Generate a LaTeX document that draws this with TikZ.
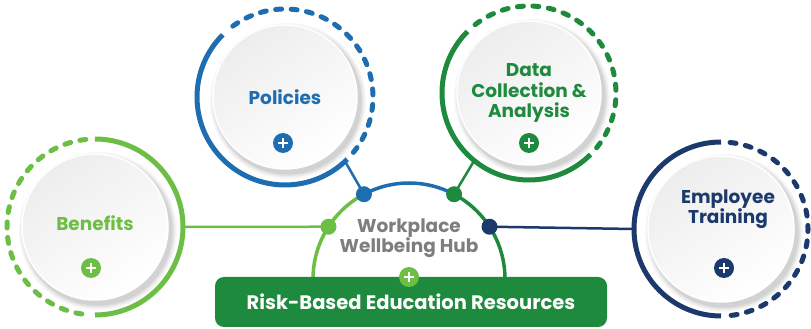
\documentclass[tikz,border=0pt]{standalone}
\usepackage{fontspec}
\setmainfont{Poppins}[BoldFont={Poppins Bold}]
\usetikzlibrary{calc}
\definecolor{lgreen}{HTML}{6DBE45}
\definecolor{pblue}{HTML}{1F6DB1}
\definecolor{dgreen}{HTML}{1E8A3E}
\definecolor{navy}{HTML}{1B3A6B}
\definecolor{hubgray}{HTML}{7E7E7E}
\tikzset{
  ringnode/.style={circle, minimum size=176pt, inner sep=0pt, draw=none},
  ringsolid/.style={line width=5pt},
  ringdash/.style={line width=5pt, line cap=round, dash pattern=on 6pt off 9.5pt},
  label/.style={font=\fontsize{18.5}{20.5}\selectfont\bfseries, align=center},
  plusbtn/.style={circle, minimum size=20pt, inner sep=0pt, fill=#1},
  hubdot/.style={circle, minimum size=16pt, inner sep=0pt, fill=#1},
  conn/.style={line width=2.5pt},
}
\newcommand{\discshade}[2]{%
  \foreach \k/\o in {12/0.03,9/0.04,6/0.05,3/0.06}{
    \fill[black, opacity=\o] ($(#1)+(3,-4)$) circle (#2+\k*0.5);
  }
  \shade[top color=gray!14, bottom color=white, shading angle=35] (#1) circle (#2);
  \draw[white, line width=1.5pt] (#1) circle (#2);
}
\newcommand{\plusmark}[1]{%
  \draw[white, line width=1.4pt] ($(#1)+(-5,0)$) -- ($(#1)+(5,0)$);
  \draw[white, line width=1.4pt] ($(#1)+(0,-5)$) -- ($(#1)+(0,5)$);
}
\begin{document}
\begin{tikzpicture}[x=1pt,y=1pt]
\useasboundingbox (0,0) rectangle (811,329);
\fill[white] (0,0) rectangle (811,329);

% ring anchor nodes
\node[ringnode] (ben) at (95,102) {};
\node[ringnode] (pol) at (285,232) {};
\node[ringnode, minimum size=174pt] (dat) at (529,236) {};
\node[ringnode, minimum size=174pt] (emp) at (721,100) {};
\coordinate (hub) at (409,50);

% hub dots positions
\coordinate (dB) at ($(hub)+(147:96)$);
\coordinate (dP) at ($(hub)+(118:96)$);
\coordinate (dD) at ($(hub)+(62:96)$);
\coordinate (dE) at ($(hub)+(33:96)$);

% hub arc
\draw[lgreen, line width=3.5pt] ($(hub)+(185:96)$) arc (185:118:96);
\draw[pblue, line width=3.5pt] (dP) arc (118:62:96);
\draw[dgreen, line width=3.5pt] (dD) arc (62:-5:96);

% connectors
\draw[conn, lgreen] (ben.east) -- (dB);
\draw[conn, navy] (dE) -- (emp.west);
\draw[conn, pblue] (pol.-47) -- (dP);
\draw[conn, dgreen] (dat.-129) -- (dD);

% discs
\discshade{ben.center}{73}
\discshade{pol.center}{72}
\discshade{dat.center}{72}
\discshade{emp.center}{73}

% rings
\draw[ringsolid, lgreen] ($(ben.center)+(90:88)$) arc (90:-90:88);
\draw[ringdash, lgreen] ($(ben.center)+(96:88)$) arc (96:264:88);
\draw[ringsolid, pblue] ($(pol.center)+(135:88)$) arc (135:315:88);
\draw[ringdash, pblue] ($(pol.center)+(-39:88)$) arc (-39:129:88);
\draw[ringsolid, dgreen] ($(dat.center)+(135:87)$) arc (135:315:87);
\draw[ringdash, dgreen] ($(dat.center)+(-39:87)$) arc (-39:129:87);
\draw[ringsolid, navy] ($(emp.center)+(90:87)$) arc (90:270:87);
\draw[ringdash, navy] ($(emp.center)+(84:87)$) arc (84:-84:87);

% hub dots
\node[hubdot=lgreen] (nB) at (dB) {};
\node[hubdot=pblue] (nP) at (dP) {};
\node[hubdot=dgreen] (nD) at (dD) {};
\node[hubdot=navy] (nE) at (dE) {};

% labels
\node[label, text=lgreen] (tben) at (95,106) {Benefits};
\node[label, text=pblue] (tpol) at (285,232) {Policies};
\node[label, text=dgreen] (tdat) at (529,236) {Data\\Collection \&\\Analysis};
\node[label, text=navy] (temp) at (728,120) {Employee\\Training};
\node[label, text=hubgray] (thub) at (409,91) {Workplace\\Wellbeing Hub};

% plus buttons
\node[plusbtn=lgreen] (pben) at (91,61) {}; \plusmark{pben}
\node[plusbtn=pblue] (ppol) at (283,186) {}; \plusmark{ppol}
\node[plusbtn=dgreen] (pdat) at (529,186) {}; \plusmark{pdat}
\node[plusbtn=navy] (pemp) at (724,61) {}; \plusmark{pemp}

% bottom box
\node[fill=dgreen, rounded corners=9pt, minimum width=392pt, minimum height=50pt, inner sep=0pt,
  text=white, font=\fontsize{19.5}{21}\selectfont\bfseries] (box) at (411,27) {Risk-Based Education Resources};
\node[plusbtn=lgreen] (phub) at (409,52) {}; \plusmark{phub}
\end{tikzpicture}
\end{document}
